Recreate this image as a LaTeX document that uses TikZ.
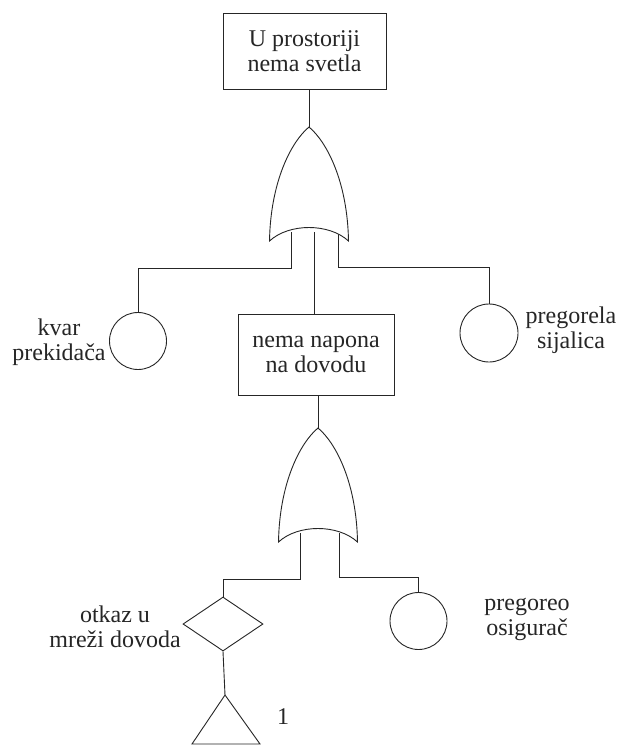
\documentclass[tikz,border=0pt]{standalone}
\usepackage{fontspec}
\setmainfont{Liberation Serif}
\usetikzlibrary{shapes.geometric}
\tikzset{
  txt/.style={font=\fontsize{24}{25}\selectfont},
  evbox/.style={draw, rectangle, inner sep=0pt, align=center, txt},
  basic/.style={draw, circle, minimum size=57pt, inner sep=0pt},
  undev/.style={draw, diamond, minimum width=80pt, minimum height=54pt, inner sep=0pt},
  lbl/.style={align=center, inner sep=0pt, txt},
  orgate/.pic={
    \draw[fill=white] (-39.5,114) .. controls (-38.5,55) and (-18,15) .. (0,0)
      .. controls (18,15) and (38.5,55) .. (39.5,114)
      .. controls (20,96) and (-20,96) .. (-39.5,114) -- cycle;
  }
}
\begin{document}
\begin{tikzpicture}[x=1pt, y=-1pt, line width=0.9pt, black!85]
\fill[white] (0,0) rectangle (622,747);
\useasboundingbox (0,0) rectangle (622,747);

% events
\node[evbox, minimum width=163pt, minimum height=76pt] (top) at (304.5,51) {U prostoriji\\nema svetla};
\node[evbox, minimum width=156pt, minimum height=81pt] (mid) at (316,354.5) {nema napona\\na dovodu};
\node[basic] (c1) at (138,341) {};
\node[basic, minimum size=58pt] (c2) at (489,333) {};
\node[basic] (c3) at (418.5,621) {};
\node[undev] (d1) at (223,624) {};
\coordinate (t1) at (225,695);

% labels
\node[lbl] (l1) at (59,342.5) {kvar\\prekidača};
\node[lbl] (l2) at (571,330.5) {pregorela\\sijalica};
\node[lbl] (l3) at (115,626.5) {otkaz u\\mreži dovoda};
\node[lbl] (l4) at (527,619.5) {pregoreo\\osigurač};
\node[lbl] (l5) at (283,717) {1};

% gate anchors
\coordinate (g1) at (309,127);
\coordinate (g1-l) at (291,232);
\coordinate (g1-m) at (314,232);
\coordinate (g1-r) at (338,232);
\coordinate (g2) at (318,428);
\coordinate (g2-l) at (300,533);
\coordinate (g2-r) at (339,533);

% connectors
\draw (top.south -| g1) -- (g1);
\draw (g1-l) -- ++(0,36) -| (c1.north);
\draw (g1-m) -- (g1-m |- mid.north);
\draw (g1-r) -- ++(0,35) -| (c2.north);
\draw (mid.south -| g2) -- (g2);
\draw (g2-l) -- ++(0,46) -| (d1.north);
\draw (g2-r) -- ++(0,44) -| (c3.north);
\draw (d1.south) -- (t1);

% transfer triangle
\draw (t1) -- (192,744) -- (260,744) -- cycle;

% gates
\pic at (g1) {orgate};
\pic at (g2) {orgate};
\end{tikzpicture}
\end{document}
